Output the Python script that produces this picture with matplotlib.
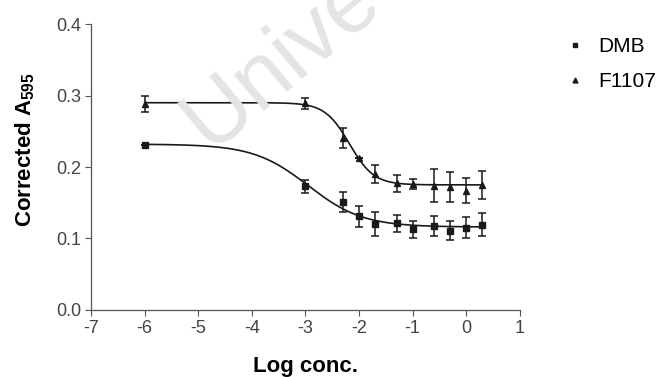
import numpy as np
import matplotlib
matplotlib.use("Agg")
import matplotlib.pyplot as plt

plt.rcParams['font.family'] = ['Liberation Sans', 'DejaVu Sans']
plt.rcParams['mathtext.fontset'] = 'custom'
plt.rcParams['mathtext.rm'] = 'Liberation Sans:bold'
plt.rcParams['axes.unicode_minus'] = False

# log concentrations
log_conc = [-6, -3, -2.3, -2, -1.7, -1.3, -1, -0.6, -0.3, 0, 0.3]

dmb = [0.231, 0.173, 0.151, 0.131, 0.120, 0.121, 0.113, 0.118, 0.111, 0.115, 0.119]
dmb_err = [0.0, 0.009, 0.014, 0.015, 0.017, 0.012, 0.012, 0.014, 0.013, 0.015, 0.016]

f1107 = [0.288, 0.289, 0.241, 0.212, 0.190, 0.177, 0.176, 0.174, 0.172, 0.167, 0.175]
f1107_err = [0.011, 0.008, 0.014, 0.0, 0.013, 0.012, 0.007, 0.023, 0.021, 0.017, 0.020]

# fitted sigmoid parameters (top, bottom, logEC50, hill)
dmb_fit = (0.232, 0.116, -2.95, 0.85)
f1107_fit = (0.290, 0.175, -2.18, 1.9)


def sigmoid(x, p):
    top, bottom, ec50, h = p
    return bottom + (top - bottom) / (1 + 10 ** ((x - ec50) * h))


fig = plt.figure(figsize=(6.64, 3.77), dpi=100)
ax = fig.add_axes([0.137, 0.178, 0.646, 0.758])

# watermark
fig.text(0.315, 0.60, "Unive", rotation=40, rotation_mode="anchor",
         ha="left", va="baseline", fontsize=64, color="#e4e4e4", zorder=0)

xx = np.linspace(-6, 0.3, 300)
col = "#1a1a1a"
ax.plot(xx, sigmoid(xx, dmb_fit), color=col, lw=1.2)
ax.plot(xx, sigmoid(xx, f1107_fit), color=col, lw=1.2)

ax.errorbar(log_conc, dmb, yerr=dmb_err, fmt="s", ms=5, color=col,
            ecolor=col, elinewidth=1.1, capsize=3, capthick=1.1, label="DMB")
ax.errorbar(log_conc, f1107, yerr=f1107_err, fmt="^", ms=5, color=col,
            ecolor=col, elinewidth=1.1, capsize=3, capthick=1.1, label="F1107")

ax.set_xlim(-7, 1)
ax.set_ylim(0, 0.4)
ax.set_xticks(range(-7, 2))
ax.set_yticks([0.0, 0.1, 0.2, 0.3, 0.4])
ax.set_yticklabels(["0.0", "0.1", "0.2", "0.3", "0.4"])
ax.patch.set_alpha(0)

for s in ["top", "right"]:
    ax.spines[s].set_visible(False)
for s in ["left", "bottom"]:
    ax.spines[s].set_color("#555555")
    ax.spines[s].set_linewidth(0.9)
ax.tick_params(direction="out", length=4, width=0.8, color="#555555",
               labelsize=13, labelcolor="#444444", pad=3)

ax.set_xlabel("Log conc.", fontsize=16, fontweight="bold", labelpad=14)
ax.set_ylabel("Corrected A$_{595}$", fontsize=16, fontweight="bold")
ax.yaxis.set_label_coords(-0.125, 0.56)

h, l = ax.get_legend_handles_labels()
h = [hh[0] for hh in h]
fig.legend(h, l, loc="upper left", bbox_to_anchor=(0.835, 0.94), frameon=False,
           fontsize=15, markerscale=0.7, handlelength=0.6, handletextpad=0.8,
           labelspacing=0.75, borderpad=0.2)

fig.savefig("out.png", dpi=100)
